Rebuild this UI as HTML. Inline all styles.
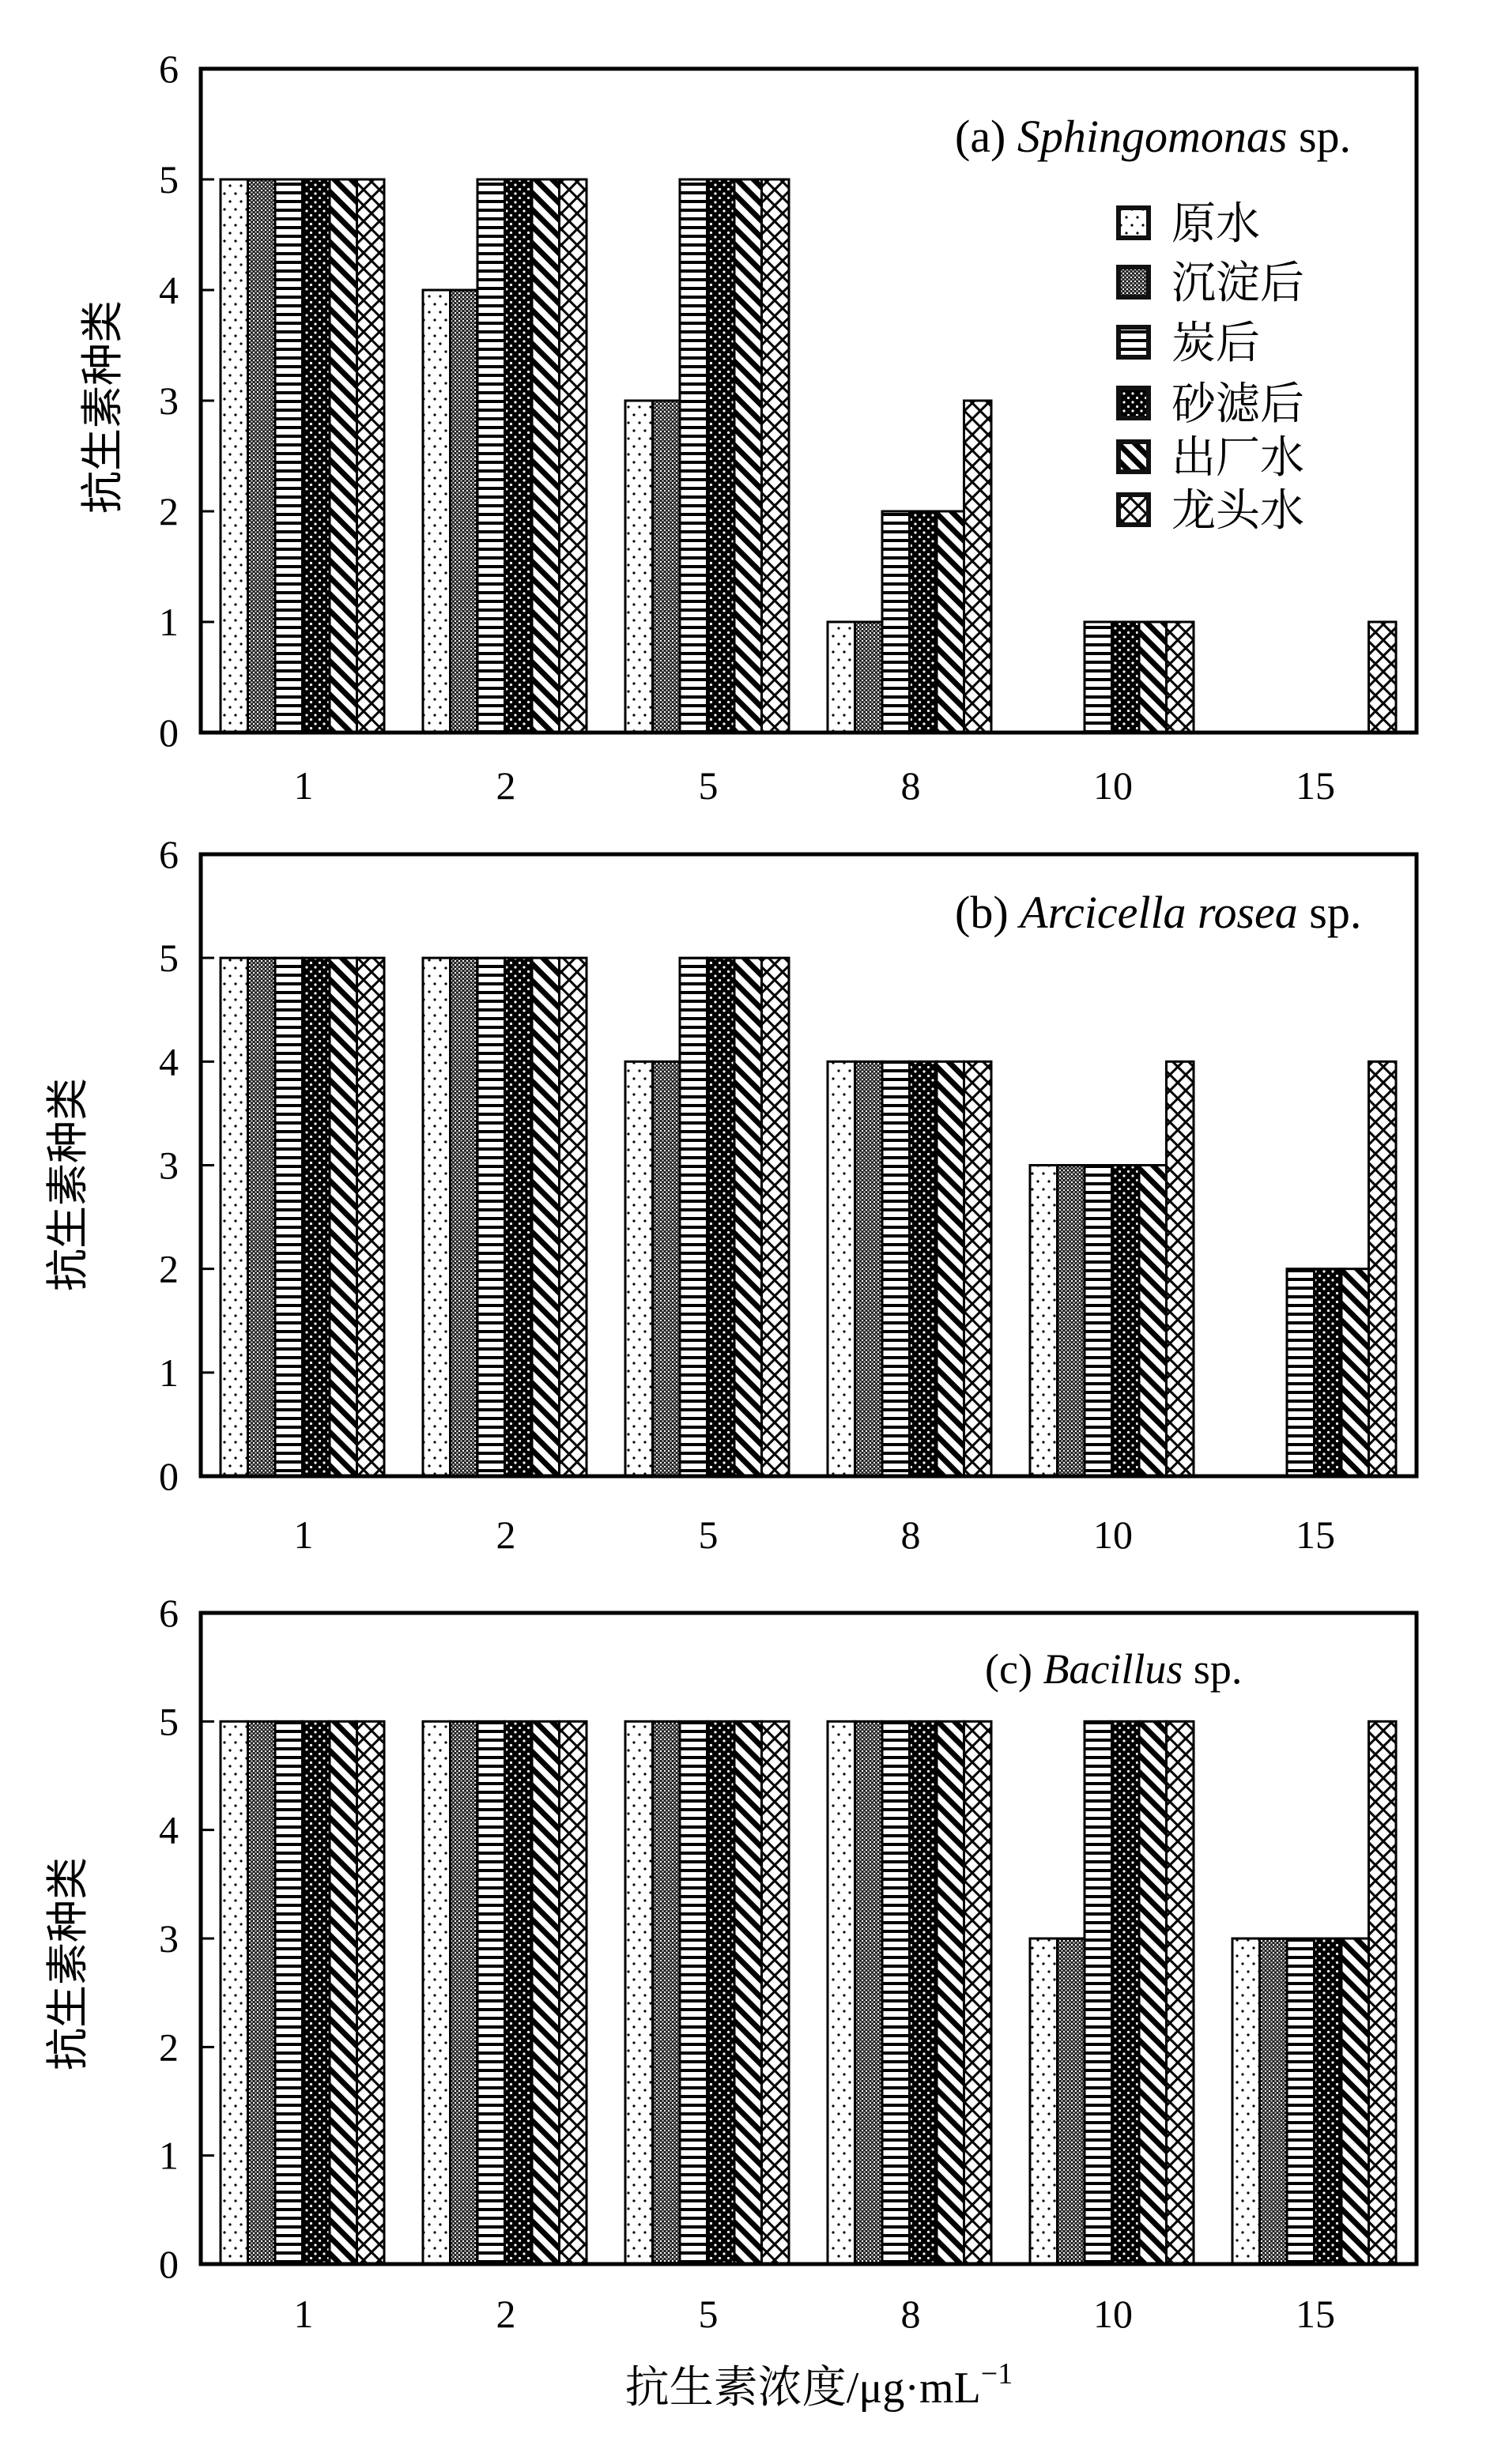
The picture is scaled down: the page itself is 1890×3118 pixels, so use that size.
<!DOCTYPE html>
<html><head><meta charset="utf-8">
<style>html,body{margin:0;padding:0;background:#fff}svg{display:block}</style>
</head><body>
<svg id="s" xmlns="http://www.w3.org/2000/svg" width="1890" height="3118" viewBox="0 0 1890 3118">
<defs>
<pattern id="p1" width="14" height="20" patternUnits="userSpaceOnUse"><rect width="14" height="20" fill="#fff"/><circle cx="4" cy="5" r="1.6" fill="#000"/><circle cx="11" cy="15" r="1.6" fill="#000"/></pattern>
<pattern id="p2" width="5" height="5" patternUnits="userSpaceOnUse"><rect width="5" height="5" fill="#222"/><rect x="0" y="0" width="2" height="2" fill="#fff"/><rect x="2.5" y="2.5" width="2" height="2" fill="#ddd"/></pattern>
<pattern id="p3" width="10" height="11" patternUnits="userSpaceOnUse"><rect width="10" height="11" fill="#fff"/><rect y="0" width="10" height="4" fill="#000"/></pattern>
<pattern id="p4" width="11" height="11" patternUnits="userSpaceOnUse"><rect width="11" height="11" fill="#000"/><circle cx="3" cy="3" r="1.6" fill="#fff"/><circle cx="8.5" cy="8.5" r="1.6" fill="#fff"/></pattern>
<pattern id="p5" width="15" height="15" patternUnits="userSpaceOnUse" patternTransform="rotate(-45)"><rect width="15" height="15" fill="#fff"/><rect width="7" height="15" fill="#000"/></pattern>
<pattern id="p6" width="20" height="20" patternUnits="userSpaceOnUse"><rect width="20" height="20" fill="#fff"/><path d="M0,0L20,20M20,0L0,20M-2,18L2,22M18,-2L22,2" stroke="#000" stroke-width="3"/></pattern>
</defs>
<g id="g"></g>
</svg>
<script>
var NS="http://www.w3.org/2000/svg",G=document.getElementById('g');
function el(t,a,txt){var e=document.createElementNS(NS,t);for(var k in a)e.setAttribute(k,a[k]);if(txt!==undefined)e.textContent=txt;G.appendChild(e);return e;}
var panels=[
 {top:87,zero:927,data:[[5,5,5,5,5,5],[4,4,5,5,5,5],[3,3,5,5,5,5],[1,1,2,2,2,3],[0,0,1,1,1,1],[0,0,0,0,0,1]],xl:994,yl:[130,515],title:['(a) ','Sphingomonas',' sp.'],tx:1208,ty:192},
 {top:1081,zero:1868,data:[[5,5,5,5,5,5],[5,5,5,5,5,5],[4,4,5,5,5,5],[4,4,4,4,4,4],[3,3,3,3,3,4],[0,0,2,2,2,4]],xl:1942,yl:[86,1499],title:['(b) ','Arcicella rosea',' sp.'],tx:1208,ty:1174},
 {top:2041,zero:2865,data:[[5,5,5,5,5,5],[5,5,5,5,5,5],[5,5,5,5,5,5],[5,5,5,5,5,5],[3,3,5,5,5,5],[3,3,3,3,3,5]],xl:2928,yl:[86,2485],title:['(c) ','Bacillus',' sp.'],tx:1246,ty:2130}
];
var L=254,R=1792,labels=['1','2','5','8','10','15'];
panels.forEach(function(p,pi){
 var u=(p.zero-p.top)/6;
 for(var gi=0;gi<6;gi++){for(var i=0;i<6;i++){var v=p.data[gi][i];if(!v)continue;
  var x=279+gi*256+i*34.5;el('rect',{x:x,y:p.zero-v*u,width:34.5,height:v*u,fill:'url(#p'+(i+1)+')',stroke:'#000','stroke-width':3});}
  el('text',{x:384+gi*256,y:p.xl+17,'font-family':'Liberation Serif, serif','font-size':50,'text-anchor':'middle'},labels[gi]);}
 el('rect',{x:L,y:p.top,width:R-L,height:p.zero-p.top,fill:'none',stroke:'#000','stroke-width':5});
 for(var k=0;k<=6;k++){var y=p.zero-k*u;el('line',{x1:L,y1:y,x2:L+17,y2:y,stroke:'#000','stroke-width':3});
  el('text',{x:226,y:y+17,'font-family':'Liberation Serif, serif','font-size':50,'text-anchor':'end'},String(k));}
 var t=el('text',{x:p.tx,y:p.ty,'font-family':'Liberation Serif, serif','font-size':pi==2?54:58});
 var a=document.createElementNS(NS,'tspan');a.textContent=p.title[0];t.appendChild(a);
 var b=document.createElementNS(NS,'tspan');b.setAttribute('font-style','italic');b.textContent=p.title[1];t.appendChild(b);
 var c=document.createElementNS(NS,'tspan');c.textContent=p.title[2];t.appendChild(c);
 el('text',{x:0,y:0,transform:'translate('+(p.yl[0]+18)+','+p.yl[1]+') rotate(-90)','font-family':'Noto Sans CJK SC, sans-serif','font-size':54,'text-anchor':'middle'},'抗生素种类');
});
var names=['原水','沉淀后','炭后','砂滤后','出厂水','龙头水'],ly=[282,357,433,510,578,645];
names.forEach(function(n,i){el('rect',{x:1415,y:ly[i]-19,width:38,height:38,fill:'url(#p'+(i+1)+')',stroke:'#111','stroke-width':6});
 el('text',{x:1482,y:ly[i]+20,'font-family':'Noto Serif CJK SC, serif','font-size':56},n);});
var t=el('text',{x:1036,y:3040,'font-family':'Liberation Serif, Noto Serif CJK SC, serif','font-size':56,'text-anchor':'middle'},'抗生素浓度/μg·mL');
var s=document.createElementNS(NS,'tspan');s.setAttribute('dy','-24');s.setAttribute('font-size','38');s.textContent='−1';t.appendChild(s);
</script>
</body></html>
